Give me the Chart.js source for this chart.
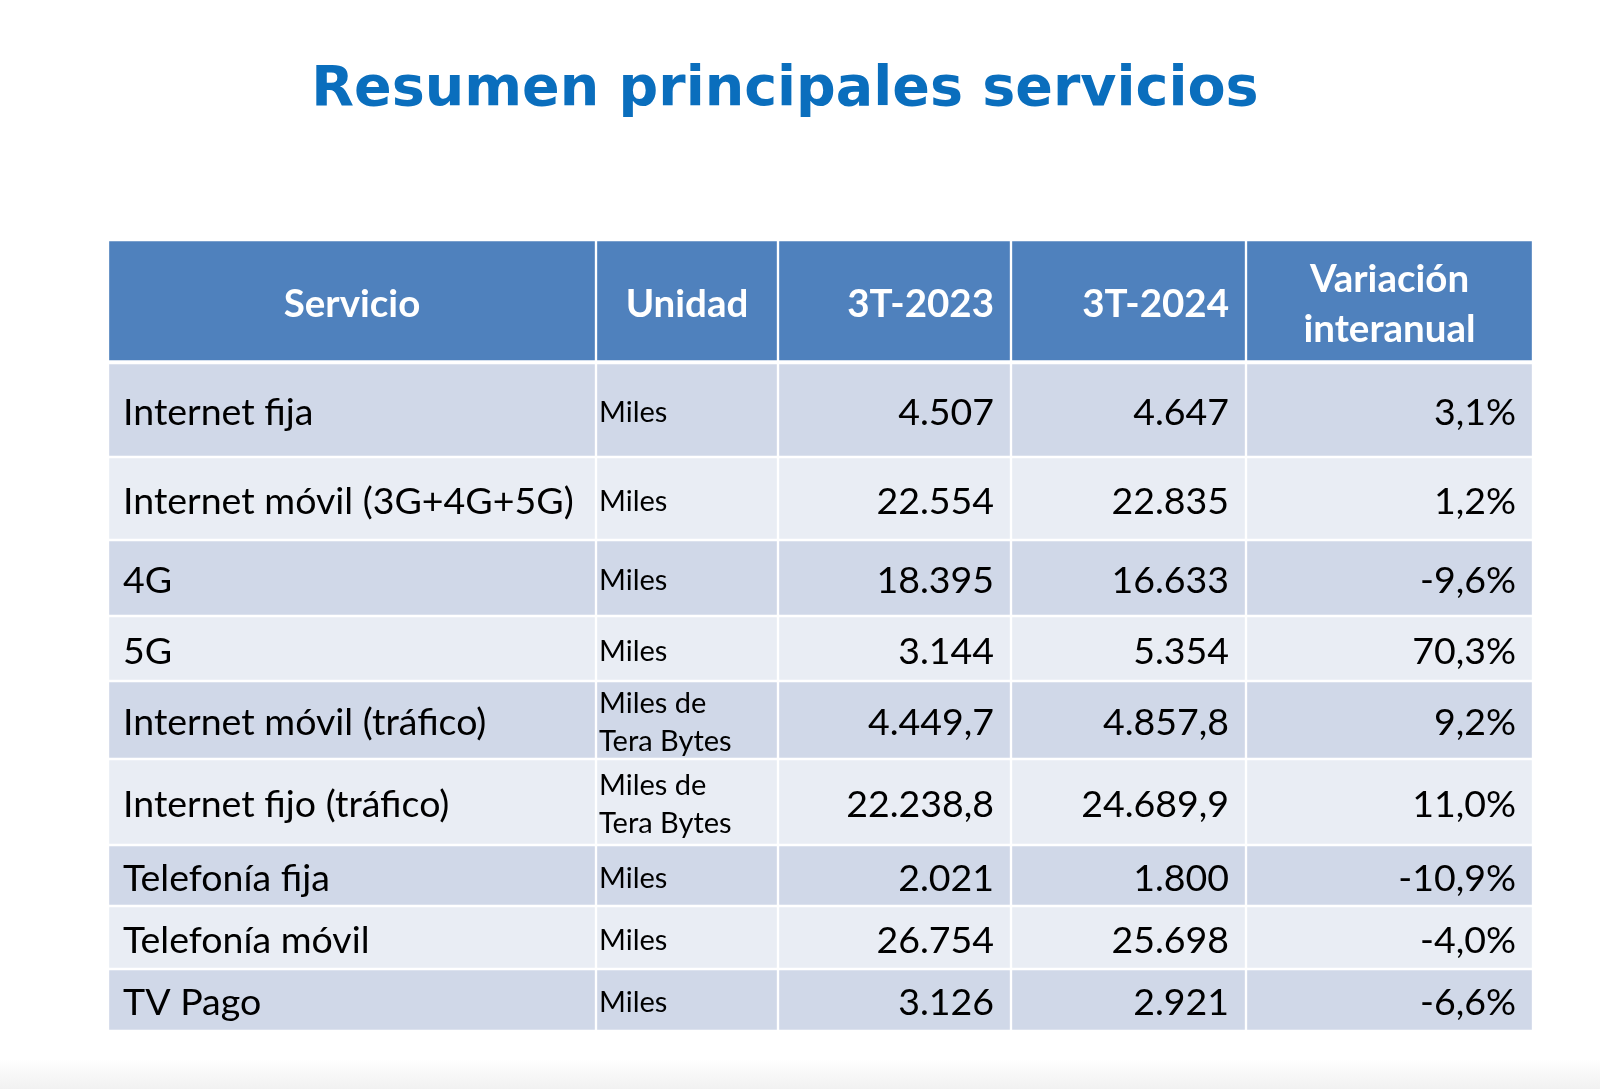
<!DOCTYPE html>
<html lang="es">
<head>
<meta charset="utf-8">
<title>Resumen principales servicios</title>
<script src="https://cdn.jsdelivr.net/npm/chart.js@4.4.1/dist/chart.umd.min.js"></script>
<style>
    html, body { margin: 0; padding: 0; background: #fff; overflow: hidden; }
    #wrap { position: relative; width: 1600px; height: 1089px; }
    #titulo {
        position: absolute; left: 0; width: 1570px; top: 53px;
        text-align: center; margin: 0;
        font: bold 55.5px "DejaVu Sans", Verdana, sans-serif;
        line-height: 66px; color: #0A6EBD;
    }
    #pie {
        position: absolute; left: 0; right: 0; bottom: 0; height: 30px;
        background: linear-gradient(#ffffff, #f1f1f1);
    }
    canvas { position: absolute; left: 0; top: 0; }
</style>
</head>
<body>
<div id="wrap">
    <h1 id="titulo">Resumen principales servicios</h1>
    <div id="pie"></div>
    <canvas id="tabla" width="1600" height="1089"></canvas>
</div>
<script>
// datos de la tabla
const encabezados = ["Servicio", "Unidad", "3T-2023", "3T-2024", "Variación\ninteranual"];
const servicios = [
    "Internet fija",
    "Internet móvil (3G+4G+5G)",
    "4G",
    "5G",
    "Internet móvil (tráfico)",
    "Internet fijo (tráfico)",
    "Telefonía fija",
    "Telefonía móvil",
    "TV Pago",
];
const unidades = ["Miles", "Miles", "Miles", "Miles", "Miles de\nTera Bytes", "Miles de\nTera Bytes", "Miles", "Miles", "Miles"];
const valores2023 = [4507, 22554, 18395, 3144, 4449.7, 22238.8, 2021, 26754, 3126];
const valores2024 = [4647, 22835, 16633, 5354, 4857.8, 24689.9, 1800, 25698, 2921];
const decimales = [0, 0, 0, 0, 1, 1, 0, 0, 0];
const variacion = [3.1, 1.2, -9.6, 70.3, 9.2, 11.0, -10.9, -4.0, -6.6];

// maquetación (px)
const anchoColumnas = [488, 182, 233, 235, 287];
const altoFilas = [123, 94, 83, 76, 65, 78, 86, 61, 63, 62];
const colorEncabezado = "#4F81BD";
const coloresFilas = ["#D0D8E8", "#E9EDF4"];

const fmtNum = (v, d) =>
    new Intl.NumberFormat("de-DE", { minimumFractionDigits: d, maximumFractionDigits: d }).format(v);
const fmtPct = (v) => v.toFixed(1).replace(".", ",") + "%";

// bordes acumulados de columnas y filas
const bordesCol = [0];
anchoColumnas.forEach((w) => bordesCol.push(bordesCol[bordesCol.length - 1] + w));
const bordesFila = [0];
altoFilas.forEach((h) => bordesFila.push(bordesFila[bordesFila.length - 1] + h));

// textos de cada fila (fila 0 = encabezado)
const textosFilas = [encabezados].concat(
    servicios.map((s, i) => [
        s,
        unidades[i],
        fmtNum(valores2023[i], decimales[i]),
        fmtNum(valores2024[i], decimales[i]),
        fmtPct(variacion[i]),
    ])
);

const datasets = altoFilas.map((h, r) => ({
    label: r === 0 ? "encabezado" : servicios[r - 1],
    data: anchoColumnas.map((w, c) => ({
        x: [bordesCol[c], bordesCol[c + 1]],
        y: (bordesFila[r] + bordesFila[r + 1]) / 2,
    })),
    backgroundColor: r === 0 ? colorEncabezado : coloresFilas[(r - 1) % 2],
    borderColor: "#ffffff",
    borderWidth: r === 0 ? { top: 1.5, left: 1.5, right: 1.5, bottom: 3 } : 1.5,
    borderSkipped: false,
    barThickness: h,
    grouped: false,
}));

const textoCeldas = {
    id: "textoCeldas",
    afterDatasetsDraw(chart) {
        const ctx = chart.ctx;
        ctx.save();
        chart.data.datasets.forEach((ds, r) => {
            const meta = chart.getDatasetMeta(r);
            meta.data.forEach((bar, c) => {
                const p = bar.getProps(["x", "y", "base"], true);
                const izq = Math.min(p.x, p.base);
                const der = Math.max(p.x, p.base);
                const lineas = textosFilas[r][c].split("\n");
                let tx, align, size, alto;
                if (r === 0) {
                    ctx.fillStyle = "#ffffff";
                    size = 38.5;
                    alto = 50;
                    ctx.font = "bold " + size + "px Lato, sans-serif";
                    if (c >= 2 && c <= 3) { align = "right"; tx = der - 17; }
                    else { align = "center"; tx = (izq + der) / 2; }
                } else if (c === 1) {
                    ctx.fillStyle = "#000000";
                    size = 29;
                    alto = 38;
                    ctx.font = size + "px Lato, sans-serif";
                    align = "left";
                    tx = izq + 3;
                } else {
                    ctx.fillStyle = "#000000";
                    size = 37.5;
                    alto = 44;
                    ctx.font = size + "px Lato, sans-serif";
                    if (c === 0) { align = "left"; tx = izq + 15; }
                    else { align = "right"; tx = der - 17; }
                }
                ctx.textAlign = align;
                ctx.textBaseline = "middle";
                const y0 = p.y + 3 - ((lineas.length - 1) * alto) / 2;
                lineas.forEach((l, k) => ctx.fillText(l, tx, y0 + k * alto));
            });
        });
        ctx.restore();
    },
};

new Chart(document.getElementById("tabla"), {
    type: "bar",
    data: { datasets: datasets },
    options: {
        indexAxis: "y",
        responsive: false,
        animation: false,
        layout: { padding: { left: 108, right: 67, top: 240, bottom: 58 } },
        scales: {
            x: { type: "linear", min: 0, max: bordesCol[bordesCol.length - 1], offset: false, display: false },
            y: { type: "linear", min: 0, max: bordesFila[bordesFila.length - 1], reverse: true, offset: false, display: false },
        },
        plugins: {
            legend: { display: false },
            tooltip: { enabled: false },
        },
    },
    plugins: [textoCeldas],
});
</script>
</body>
</html>
